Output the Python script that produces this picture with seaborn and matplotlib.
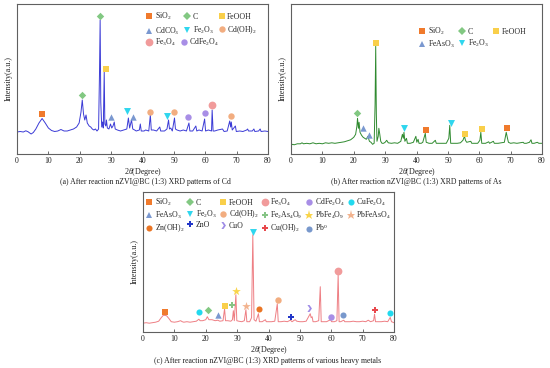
import matplotlib
matplotlib.use("Agg")
import matplotlib.pyplot as plt
import seaborn as sns
import pandas as pd
from matplotlib.lines import Line2D
from matplotlib.legend import Legend

sns.set_theme(style="ticks")
plt.rcParams['font.family'] = ['Liberation Serif', 'DejaVu Serif']
plt.rcParams['mathtext.fontset'] = 'custom'
plt.rcParams['mathtext.rm'] = 'Liberation Serif'
plt.rcParams['mathtext.it'] = 'Liberation Serif:italic'

# ---------------- data: panel (a) Cd ----------------
a_tt = [0, 1, 2, 2.8, 3.5, 4.5, 5.2, 6, 7, 8, 9, 10, 11, 12, 13, 14, 15, 16, 17, 18, 19, 19.8, 20.4, 20.8,
        21.2, 21.6, 22, 22.4, 23, 23.5, 24, 24.5, 25, 25.5, 26, 26.3, 26.5, 26.7, 27, 27.3, 27.5, 27.8, 28.0,
        28.3, 28.5, 28.8, 29.3, 29.8, 30.2, 30.6, 31, 31.3, 32, 33, 34, 35, 35.5, 35.9, 36.5, 36.9, 37.5, 38,
        39, 39.3, 39.6, 40.5, 41, 42, 42.5, 42.8, 43.5, 44.5, 45.5, 45.8, 47, 47.8, 48.3, 48.6, 49, 49.5, 50.2,
        50.5, 51, 52, 53, 54, 54.8, 55.1, 56, 57, 57.3, 58, 59, 59.8, 60.1, 61, 62, 62.2, 62.5, 63, 64, 65.5,
        66, 67, 67.8, 68.1, 68.3, 68.6, 69.6, 69.9, 71, 72, 73.2, 73.5, 73.8, 75, 75.5, 75.8, 77, 77.5, 77.8,
        79, 80]
a_int = [0, 0.5, 0, 1.2, 0.3, -2, -0.5, 3, 9, 13.5, 9, 4, 1.5, 0.5, 1, 2.5, 1, 1, 2, 3, 5, 9, 20, 32,
         18, 12, 17, 9, 6, 5, 3, 2, 3, 1, 3, 60, 112, 30, 5, 10, 4, 60, 8,
         6, 12, 4, 3, 8, 4, 6, 10, 3, 2, 1, 2, 3, 14, 4, 12, 3, 2, 1,
         2, 8, 1, 1, 2, 1, 17, 2, 2, 1, 5, 1, 1, 3, 12, 3, 4, 1, 14,
         3, 2, 1, 2, 1, 9, 1, 1, 6, 1, 2, 1, 13, 1, 2, 1, 22, 1, 1, 2, 3,
         0.5, 1, 11, 5, 10, 2, 6, 0.5, 1, 0.5, 2, 3, 1, 1, 3, 0.5, 1, 3, 0.5,
         1, 0.5]
a_phase = ['SiO2', 'C', 'C', 'FeOOH', 'CdCO3', 'CdCO3', 'Fe2O3', 'Fe2O3', 'Cd(OH)2', 'Cd(OH)2',
           'Cd(OH)2', 'CdFe2O4', 'CdFe2O4', 'Fe3O4']
a_mark_tt = [8.0, 20.6, 26.3, 28.3, 30.0, 36.9, 35.0, 47.9, 42.5, 50.1, 68.1, 54.6, 59.9, 62.3]
a_mark_int = [18, 37, 116.5, 63.5, 14.7, 14.7, 21.3, 16.3, 19.7, 20.3, 16.3, 14.7, 19.3, 27.3]
a_legend_rows12 = ['SiO2', 'CdCO3', 'C', 'Fe2O3', 'FeOOH', 'Cd(OH)2']
a_legend_row3 = ['Fe3O4', 'CdFe2O4']

# ---------------- data: panel (b) As ----------------
b_tt = [0, 0.5, 1, 2, 3, 3.5, 4, 5, 6, 7, 8, 9, 10, 11, 12, 13, 14, 15, 16, 17, 18, 19, 20, 20.6, 21.0,
        21.2, 21.5, 21.7, 22, 22.5, 23, 23.5, 24, 24.5, 25, 25.5, 26, 26.5, 26.8, 27.0, 27.2, 27.4, 27.8, 28.0,
        28.3, 28.6, 29, 29.5, 30, 30.5, 31, 32, 33, 34, 35, 35.5, 35.8, 36, 36.3, 36.8, 37.1, 38, 39, 39.8,
        40.1, 40.5, 40.8, 41.5, 42, 42.8, 43.1, 44, 45, 46, 46.3, 47.5, 48.5, 49.5, 50.3, 50.6, 50.9, 52, 53,
        54, 54.8, 55.3, 55.6, 56, 57.3, 57.6, 58.5, 59.5, 60.2, 60.5, 60.8, 61.5, 62, 63, 63.3, 64.5, 64.8,
        66, 67, 68, 68.6, 69, 69.3, 70, 71, 72, 73, 74, 74.3, 75, 76, 76.5, 76.8, 77.5, 78.5, 79, 80]
b_int = [-1, 0, -0.5, 0.5, 0.5, 1.5, 0.5, 1, 0.5, 1.5, 0.5, 1, 0.5, 1.5, 1, 1.5, 1, 1.5, 2, 2.5, 3.5, 4.5, 7, 10, 18,
         26, 16, 22, 12, 9, 7, 6, 5, 8, 3, 2, 0, 1, 40, 98, 30, 3, 8, 16,
         10, 3, 1, 1, 2, 4, 1.5, 1, 1.5, 1, 3, 10, 6, 12, 3, 6, 1, 1, 2, 8,
         2, 5, 1, 1, 2, 11, 2, 1, 1, 4, 1, 1, 1, 1, 6, 19, 1, 1, 1,
         1.5, 4, 8, 4, 2, 3, 1, 1, 1, 4, 12, 1, 1, 1, 2.5, 1, 3, 1,
         1, 1.5, 2, 12, 6, 2, 1, 1.5, 1, 1.5, 2, 1, 1, 2, 4.5, 1, 1, 2, 1, 1]
b_phase = ['C', 'FeAsO3', 'FeAsO3', 'FeOOH', 'Fe2O3', 'SiO2', 'Fe2O3', 'FeOOH', 'FeOOH', 'SiO2']
b_mark_tt = [21.0, 23.0, 24.8, 27.2, 35.9, 43.0, 51.0, 55.4, 60.9, 68.8]
b_mark_int = [31.7, 16, 9, 101, 16, 14.3, 21.7, 10.7, 15.3, 16.7]
b_legend = ['SiO2', 'FeAsO3', 'C', 'Fe2O3', 'FeOOH']

# ---------------- data: panel (c) various heavy metals ----------------
c_tt = [0, 1, 2, 3, 4, 5, 5.8, 6.5, 7.5, 8.3, 9, 10, 11, 12, 12.5, 13, 14, 15, 16, 17, 17.8, 18.2, 19, 20,
        20.5, 21, 22, 23, 23.8, 24.5, 25.5, 26, 26.3, 27, 28, 28.5, 28.8, 29.1, 29.6, 29.9, 30.5, 31.5, 32.3,
        32.8, 33.1, 34, 34.6, 35.0, 35.4, 36, 36.8, 37.1, 38, 39, 39.3, 40, 41, 42, 42.8, 43.1, 44, 45, 46,
        47, 47.5, 48.5, 49, 50, 51, 52, 53.3, 53.6, 53.9, 54.2, 55, 56, 56.5, 56.8, 57.5, 58.5, 59.8, 60.1,
        61, 61.8, 62.2, 62.5, 63, 64, 64.3, 65, 66, 67, 68, 69, 70, 71, 71.8, 72.5, 73.5, 73.8, 74.1, 75,
        76, 77, 78, 78.8, 79.2, 80]
c_int = [-0.5, 0, -0.5, 0, 0.5, 1.5, 5, 7.5, 7, 4, 1, 0.5, 1, 2, 1, 0.5, 1, 0.5, 1, 1.5, 3.5, 2, 2, 3,
         6, 3, 3, 2, 2.5, 1.5, 2, 14, 2, 2, 1.5, 3, 12, 2, 28, 2, 1.5, 1, 2,
         13, 1, 1, 5, 88, 3, 1.5, 9, 1, 1, 3, 1, 1, 1, 1.5, 19, 1, 1, 1.5, 1,
         2.5, 1, 3, 1.5, 1, 1, 1.5, 9, 5, 6, 1, 1, 2, 36, 1, 1, 1, 3, 1,
         1, 2, 48, 1, 1, 2.5, 1, 1, 1, 1.5, 1, 1, 1.5, 1, 2.5, 1, 2, 8.5, 1, 1,
         1, 1.5, 1, 5.3, 1, 0]
c_phase = ['SiO2', 'CuFe2O4', 'C', 'FeAsO3', 'FeOOH', 'Fe2As4O9', 'PbFe4O9', 'PbFeAsO4', 'Fe2O3',
           'Zn(OH)2', 'Cd(OH)2', 'ZnO', 'CuO', 'CdFe2O4', 'Fe3O4', 'Pb0', 'Cu(OH)2', 'CuFe2O4']
c_mark_tt = [7.1, 17.9, 20.6, 23.9, 26.0, 28.4, 29.8, 32.7, 35.1, 36.9, 42.9, 47.2, 53.0, 59.8, 62.2,
             63.9, 73.9, 78.7]
c_mark_int = [10.7, 10.7, 12.7, 7.7, 16.7, 18, 32, 16.7, 91, 13.7, 22.7, 5.3, 15, 5.3, 52, 7.7, 12.7, 10]
c_legend = ['SiO2', 'FeAsO3', 'Zn(OH)2', 'C', 'Fe2O3', 'ZnO', 'FeOOH', 'Cd(OH)2', 'CuO',
            'Fe3O4', 'Fe2As4O9', 'Cu(OH)2', 'CdFe2O4', 'PbFe4O9', 'Pb0', 'CuFe2O4', 'PbFeAsO4']

x_ticks = [0, 10, 20, 30, 40, 50, 60, 70, 80]
captions = ['(a) After reaction nZVI@BC (1:3) XRD patterns of Cd',
            '(b) After reaction nZVI@BC (1:3) XRD patterns of As',
            '(c) After reaction nZVI@BC (1:3) XRD patterns of various heavy metals']

# ---------------- styles ----------------
chevron = [(-0.6, 1.0), (0.0, 1.0), (0.7, 0.0), (0.0, -1.0), (-0.6, -1.0), (0.1, 0.0)]
STYLE = {
    'SiO2': ('s', '#f07a2c', 4.0),
    'C': ('D', '#82c882', 3.8),
    'FeOOH': ('s', '#f9cf4a', 4.2),
    'CdCO3': ('^', '#7a98d0', 4.6),
    'FeAsO3': ('^', '#7a98d0', 4.6),
    'Fe2O3': ('v', '#2fd6ee', 5.0),
    'Cd(OH)2': ('o', '#f2ad80', 4.6),
    'Fe3O4': ('o', '#f19b9b', 5.6),
    'CdFe2O4': ('o', '#a88ee6', 4.6),
    'CuFe2O4': ('o', '#22d9ee', 4.4),
    'Fe2As4O9': ('P', '#86c486', 5.0),
    'PbFe4O9': ('*', '#f9d44a', 6.5),
    'PbFeAsO4': ('*', '#f2b38e', 6.5),
    'Zn(OH)2': ('o', '#ea7524', 4.4),
    'ZnO': ('P', '#2236c8', 4.6),
    'CuO': (chevron, '#9d8ae6', 5.0),
    'Cu(OH)2': ('P', '#e8484c', 4.8),
    'Pb0': ('o', '#7898cc', 4.4),
}
LABEL = {
    'SiO2': 'SiO$_2$', 'C': 'C', 'FeOOH': 'FeOOH', 'CdCO3': 'CdCO$_3$', 'FeAsO3': 'FeAsO$_3$',
    'Fe2O3': 'Fe$_2$O$_3$', 'Cd(OH)2': 'Cd(OH)$_2$', 'Fe3O4': 'Fe$_3$O$_4$', 'CdFe2O4': 'CdFe$_2$O$_4$',
    'CuFe2O4': 'CuFe$_2$O$_4$', 'Fe2As4O9': 'Fe$_2$As$_4$O$_9$', 'PbFe4O9': 'PbFe$_4$O$_9$',
    'PbFeAsO4': 'PbFeAsO$_4$', 'Zn(OH)2': 'Zn(OH)$_2$', 'ZnO': 'ZnO', 'CuO': 'CuO',
    'Cu(OH)2': 'Cu(OH)$_2$', 'Pb0': 'Pb$^0$',
}

fig = plt.figure(figsize=(5.5, 3.68), dpi=100)
W, H = 550, 368


def rect(l, t, r, b):
    return [l / W, 1 - b / H, (r - l) / W, (b - t) / H]


panels = [
    dict(rect=rect(17, 4, 268, 154), tt=a_tt, inten=a_int, color='#3b3bd6', ylim=(-22, 128),
         phase=a_phase, mtt=a_mark_tt, mint=a_mark_int,
         legends=[(a_legend_rows12, 3, (0.515, 0.955), 0.46, 0.62),
                  (a_legend_row3, 2, (0.515, 0.78), 0.46, 0.62)],
         cap=captions[0], capx=145, capy=182),
    dict(rect=rect(291, 4, 542, 154), tt=b_tt, inten=b_int, color='#2f8a2f', ylim=(-9.7, 140.3),
         phase=b_phase, mtt=b_mark_tt, mint=b_mark_int,
         legends=[(b_legend, 3, (0.51, 0.855), 0.25, 0.62)],
         cap=captions[1], capx=416, capy=182),
    dict(rect=rect(143, 192, 394, 332), tt=c_tt, inten=c_int, color='#ee7f84', ylim=(-9.3, 130.7),
         phase=c_phase, mtt=c_mark_tt, mint=c_mark_int,
         legends=[(c_legend, 6, (0.012, 0.965), 0.2, 0.42)],
         cap=captions[2], capx=268, capy=361),
]

for p in panels:
    ax = fig.add_axes(p['rect'])
    line_df = pd.DataFrame({'tt': p['tt'], 'I': p['inten']})
    sns.lineplot(data=line_df, x='tt', y='I', ax=ax, color=p['color'], linewidth=0.7,
                 estimator=None, sort=False)
    mark_df = pd.DataFrame({'tt': p['mtt'], 'I': p['mint'], 'phase': p['phase']})
    for ph, sub in mark_df.groupby('phase', sort=False):
        m, c, ms = STYLE[ph]
        sns.scatterplot(data=sub, x='tt', y='I', ax=ax, marker=m, color=c, s=ms ** 2,
                        linewidth=0, zorder=4, legend=False)
    ax.set_xlim(0, 80)
    ax.set_ylim(*p['ylim'])
    ax.set_xticks(x_ticks)
    ax.set_yticks([])
    ax.tick_params(axis='x', direction='in', length=2.5, width=0.6, colors='#555555',
                   labelsize=5.6, labelcolor='#222222', pad=2.5)
    for s in ax.spines.values():
        s.set_color('#606060')
        s.set_linewidth(0.8)
    ax.set_xlabel('2$\\theta$(Degree)', fontsize=5.8, labelpad=0.5, color='#222222')
    ax.set_ylabel('Intensity(a.u.)', fontsize=5.8, labelpad=3, color='#222222')
    for entries, ncol, pos, lspace, cspace in p['legends']:
        handles = []
        for ph in entries:
            m, c, ms = STYLE[ph]
            handles.append(Line2D([], [], marker=m, color=c, linestyle='none', markersize=ms,
                                  markeredgewidth=0))
        leg = Legend(ax, handles, [LABEL[ph] for ph in entries], ncol=ncol, loc='upper left',
                     bbox_to_anchor=pos, frameon=False, fontsize=5.6, handletextpad=0.3,
                     columnspacing=cspace, labelspacing=lspace, borderaxespad=0, borderpad=0,
                     handlelength=0.8)
        for t in leg.get_texts():
            t.set_color('#222222')
        ax.add_artist(leg)
    fig.text(p['capx'] / W, 1 - p['capy'] / H, p['cap'], ha='center', va='center',
             fontsize=5.6, color='#222222')

fig.savefig('out.png', dpi=100)
